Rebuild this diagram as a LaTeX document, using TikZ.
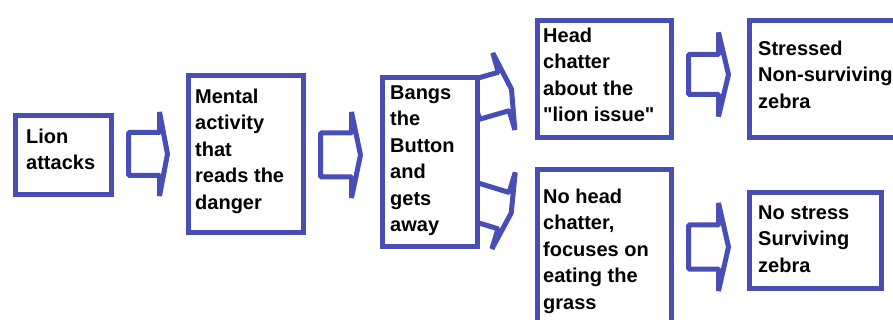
\documentclass[tikz,border=0pt]{standalone}
\usepackage{fontspec}
\setmainfont{Liberation Sans}
\definecolor{boxblue}{RGB}{72,78,182}
\newcommand\dq{\XeTeXglyph\XeTeXcharglyph"22\relax}
\tikzset{
  box/.style={draw=boxblue, line width=5pt, fill=white, rectangle, inner sep=0pt},
  txt/.style={anchor=north west, inner sep=0pt, align=left, font=\fontsize{20}{26.5}\selectfont\bfseries},
  barrow/.style={draw=boxblue, line width=5pt, fill=white, line join=bevel},
}
% block arrow: #1 origin, #2 rotation, #3 shaft length, #4 shaft half width, #5 head half width, #6 tip depth
\newcommand\blockarr[6]{%
  \begin{scope}[shift={#1}, rotate=#2]
    \draw[barrow] (0,-#4) -- (#3,-#4) -- (#3,-#5) -- (#3+#6,0) -- (#3,#5) -- (#3,#4) -- (0,#4) -- cycle;
  \end{scope}}
\begin{document}
\begin{tikzpicture}[x=1pt, y=-1pt]
\useasboundingbox (0,0) rectangle (893,320);
\clip (0,0) rectangle (893,320);
% arrows
\coordinate (a1) at (128.5,154);
\coordinate (a2) at (320.5,155);
\coordinate (a3) at (474,100);
\coordinate (a4) at (472,201);
\coordinate (a5) at (688.5,74.5);
\coordinate (a6) at (688.5,247);
\blockarr{(a1)}{0}{31}{21.5}{42}{8}
\blockarr{(a2)}{0}{31}{22}{43}{9}
\blockarr{(a3)}{16}{31}{20}{40}{8}
\blockarr{(a4)}{-17}{33}{19}{40}{8}
\blockarr{(a5)}{0}{30}{20}{42}{10}
\blockarr{(a6)}{0}{30}{22}{44}{10}
% boxes
\node[box, anchor=north west, minimum width=96pt, minimum height=79pt] (lion) at (13,113) {};
\node[box, anchor=north west, minimum width=115pt, minimum height=157pt] (mental) at (186,73) {};
\node[box, anchor=north west, minimum width=95pt, minimum height=169pt] (bangs) at (380,75) {};
\node[box, anchor=north west, minimum width=134pt, minimum height=117pt] (head) at (535,18) {};
\node[box, anchor=north west, minimum width=160pt, minimum height=117pt] (stressed) at (747,18) {};
\node[box, anchor=north west, minimum width=134pt, minimum height=170pt] (nohead) at (535,167) {};
\node[box, anchor=north west, minimum width=132pt, minimum height=96pt] (nostress) at (747,190) {};
% texts
\node[txt] (tlion) at (26,128.5) {Lion\\attacks};
\node[txt] (tmental) at (195,88.5) {Mental\\activity\\that\\reads the\\danger};
\node[txt] (tbangs) at (390,85.5) {Bangs\\the\\Button\\and\\gets\\away};
\node[txt] (thead) at (543,27.5) {Head\\chatter\\about the\\\dq lion issue\dq};
\node[txt] (tstressed) at (758,40.5) {Stressed\\Non-surviving\\zebra};
\node[txt] (tnohead) at (543,188.5) {No head\\chatter,\\focuses on\\eating the\\grass};
\node[txt] (tnostress) at (758,205.5) {No stress\\Surviving\\zebra};
\end{tikzpicture}
\end{document}
